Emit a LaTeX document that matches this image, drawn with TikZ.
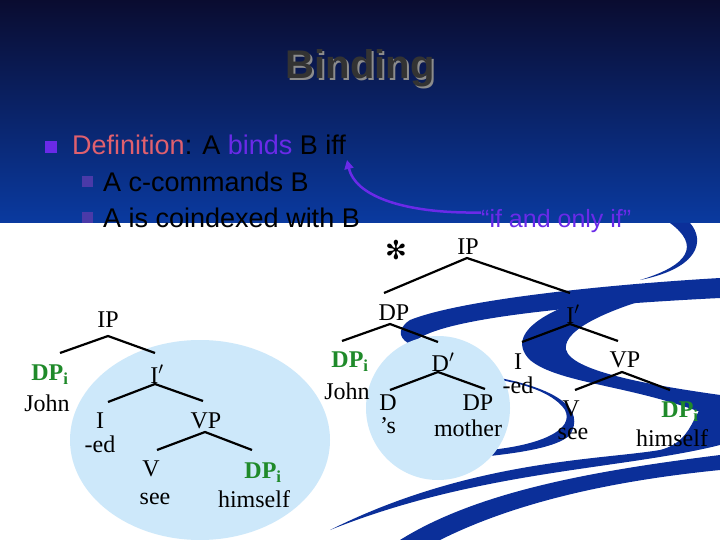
\documentclass[tikz,border=0pt]{standalone}
\usepackage{fontspec}
\setmainfont{Liberation Serif}
\newfontfamily\arial{Liberation Sans}
\newfontfamily\dejavu{DejaVu Sans}
\usetikzlibrary{arrows.meta}
\definecolor{navyA}{HTML}{0A0C30}
\definecolor{navyB}{HTML}{0A3AA0}
\definecolor{swoosh}{HTML}{0B2F99}
\definecolor{lblue}{HTML}{CDE8FA}
\definecolor{dgreen}{HTML}{1F8A2A}
\definecolor{salmon}{HTML}{E0606E}
\definecolor{violet}{HTML}{6A2AE8}
\definecolor{subbul}{HTML}{4A3AA8}
\tikzset{
  lbl/.style={font=\fontsize{24}{26}\selectfont, inner sep=0pt, anchor=center},
  gr/.style={lbl, text=dgreen, font=\fontsize{24}{26}\selectfont\bfseries},
  br/.style={line width=2.2pt, black},
  slide/.style={font=\arial\fontsize{27}{29}\selectfont, inner sep=0pt, anchor=base west}
}
\newcommand{\dpi}{DP\textsubscript{i}}
\begin{document}
\begin{tikzpicture}[x=1pt,y=-1pt]
\useasboundingbox (0,0) rectangle (720,540);
\fill[white] (0,0) rectangle (720,540);
\shade[top color=navyA, bottom color=navyB] (0,0) rectangle (720,223);
% swooshes
\fill[swoosh] (670,223) .. controls (700,245) and (690,265) .. (640,280) .. controls (700,268) and (705,240) .. (690,223) -- cycle;
\fill[swoosh] (720,278) .. controls (600,285) and (460,300) .. (410,320) .. controls (395,330) and (400,340) .. (412,345)
  .. controls (420,330) and (480,310) .. (720,298) -- cycle;
\fill[swoosh] (640,286) .. controls (560,300) and (500,330) .. (530,360) .. controls (560,385) and (640,385) .. (720,420)
  -- (720,395) .. controls (650,385) and (560,370) .. (566,345) .. controls (570,325) and (620,305) .. (680,290) -- cycle;
\fill[swoosh] (720,395) .. controls (690,400) and (700,440) .. (660,450) .. controls (600,460) and (470,460) .. (330,530)
  .. controls (480,470) and (620,470) .. (720,445) -- cycle;
\fill[swoosh] (720,455) .. controls (600,470) and (480,490) .. (400,540) -- (440,540) .. controls (520,500) and (620,480) .. (720,470) -- cycle;
\fill[swoosh] (500,378) .. controls (560,390) and (585,410) .. (570,435) .. controls (555,450) and (500,455) .. (470,458)
  -- (490,450) .. controls (540,445) and (575,430) .. (565,410) .. controls (555,395) and (530,385) .. (500,380) -- cycle;
% light blue regions
\fill[lblue] (200,440) ellipse [x radius=130, y radius=100];
\fill[lblue] (438,408) circle (72);
% title
\node[font=\arial\bfseries\fontsize{40}{42}\selectfont, text=black!45, inner sep=0pt] (titleshadow) at (362,70) {Binding};
\node[font=\arial\bfseries\fontsize{40}{42}\selectfont, text=black!80, inner sep=0pt] (title) at (360,68) {Binding};
% bullets
\fill[violet] (45,141) rectangle (57,153);
\node[slide] (def) at (72,155) {\textcolor{salmon}{Definition}: A \textcolor{violet}{binds} B iff};
\fill[subbul] (82,176) rectangle (93,187);
\node[slide] (s1) at (103,192) {A c-commands B};
\fill[subbul] (82,212) rectangle (93,223);
\node[slide] (s2) at (103,228) {A is coindexed with B};
\node[font=\arial\fontsize{25}{27}\selectfont, text=violet, inner sep=0pt, anchor=base west] (iff) at (481,228) {“if and only if”};
\coordinate (arrtip) at (347,160);
\draw[violet, line width=2.5pt, -{Triangle[length=9pt,width=9pt]}] (iff.west) ++(0,-9) -- ++(-12,0) .. controls (400,212) and (355,195) .. (arrtip);
% left tree
\node[lbl] (ip1) at (108,320) {IP};
\node[gr] (dp1) at (50,375) {\dpi};
\node[lbl] (john1) at (47,403) {John};
\node[lbl] (ib1) at (157,374) {I$'$};
\node[lbl] (i1) at (100,421) {I};
\node[lbl] (ed1) at (100,444) {-ed};
\node[lbl] (vp1) at (206,421) {VP};
\node[lbl] (v1) at (151,469) {V};
\node[lbl] (see1) at (155,499) {see};
\node[gr] (dp2) at (263,473) {\dpi};
\node[lbl] (him1) at (254,499) {himself};
\draw[br] (60,353) -- (108,336) -- (155,353);
\draw[br] (108,402) -- (155,384) -- (203,401);
\draw[br] (157,450) -- (205,432) -- (252,450);
% right tree
\node[font=\dejavu\fontsize{26}{28}\selectfont, inner sep=0pt] (star) at (396,250) {✻};
\node[lbl] (ip2) at (468,247) {IP};
\node[lbl] (dp3) at (394,313) {DP};
\node[lbl] (ib2) at (573,314) {I$'$};
\node[gr] (dp4) at (350,362) {\dpi};
\node[lbl] (john2) at (347,391) {John};
\node[lbl] (db) at (443,362) {D$'$};
\node[lbl] (i2) at (518,362) {I};
\node[lbl] (ed2) at (518,385) {-ed};
\node[lbl] (vp2) at (625,360) {VP};
\node[lbl] (d) at (388,403) {D};
\node[lbl] (s) at (388,426) {’s};
\node[lbl] (dp5) at (478,403) {DP};
\node[lbl] (mother) at (468,428) {mother};
\node[lbl] (v2) at (571,409) {V};
\node[lbl] (see2) at (573,434) {see};
\node[gr] (dp6) at (680,412) {\dpi};
\node[lbl] (him2) at (672,438) {himself};
\draw[br] (384,293) -- (467,258) -- (570,293);
\draw[br] (342,341) -- (390,324) -- (438,342);
\draw[br] (522,342) -- (570,324) -- (618,341);
\draw[br] (390,390) -- (438,372) -- (485,389);
\draw[br] (575,390) -- (622,372) -- (670,390);
\end{tikzpicture}
\end{document}
